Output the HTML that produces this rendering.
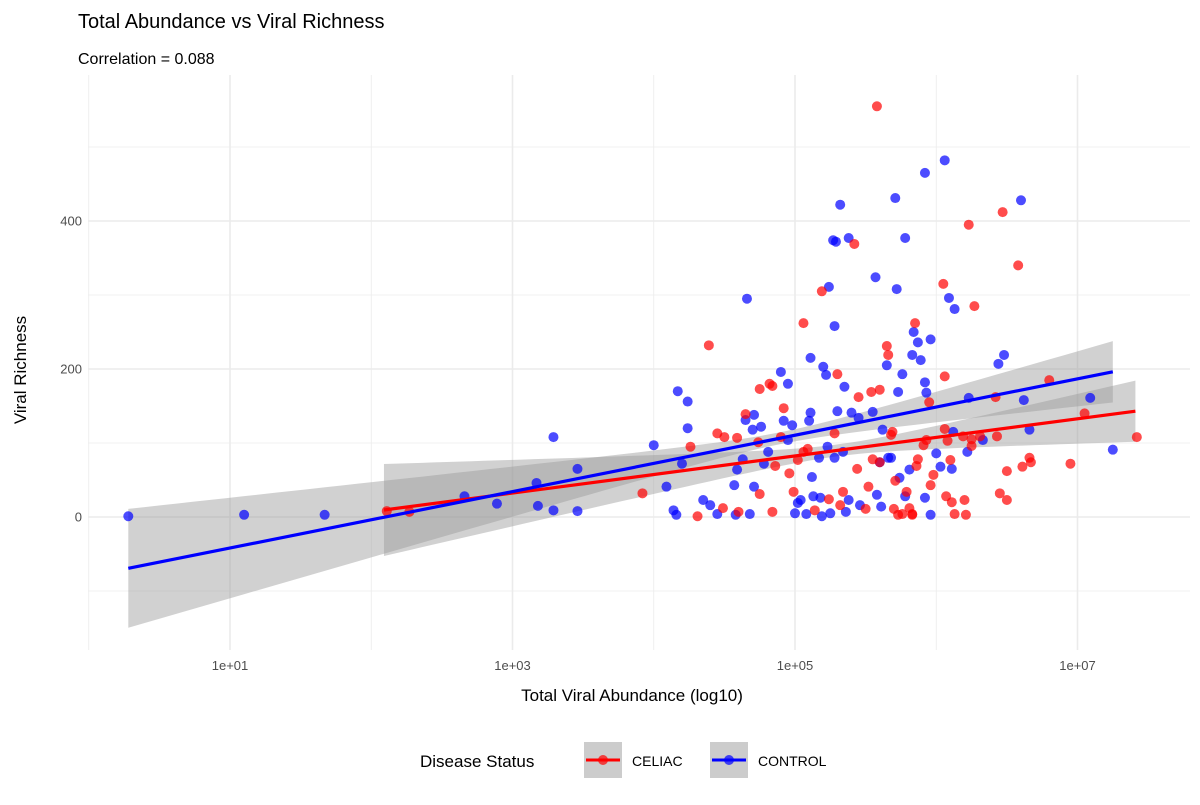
<!DOCTYPE html>
<html><head><meta charset="utf-8"><style>
body{margin:0;background:#fff;font-family:"Liberation Sans",Arial,sans-serif;}
svg text{font-family:"Liberation Sans",Arial,sans-serif;}
</style></head><body>
<svg id="chart" width="1200" height="800" viewBox="0 0 1200 800">
<text x="78" y="28" font-size="20" fill="#000">Total Abundance vs Viral Richness</text>
<text x="78" y="64" font-size="16" fill="#000">Correlation = 0.088</text>
<g id="grid"></g><g id="bands"></g><g id="points"></g><g id="lines"></g><g id="axes"></g>
<text x="632" y="701" font-size="17" text-anchor="middle" fill="#000">Total Viral Abundance (log10)</text>
<text transform="translate(26,370) rotate(-90)" font-size="17" text-anchor="middle" fill="#000">Viral Richness</text>
<g>
<text x="420" y="767" font-size="17" fill="#000">Disease Status</text>
<g>
<rect x="584" y="742" width="38" height="36" fill="#cccccc"/>
<line x1="586" y1="760" x2="620" y2="760" stroke="#ff0000" stroke-width="3"/>
<circle cx="603" cy="760" r="5" fill="#ff0000" fill-opacity="0.7"/>
<text x="632" y="766" font-size="14" fill="#000">CELIAC</text></g>
<g>
<rect x="710" y="742" width="38" height="36" fill="#cccccc"/>
<line x1="712" y1="760" x2="746" y2="760" stroke="#0000ff" stroke-width="3"/>
<circle cx="729" cy="760" r="5" fill="#0000ff" fill-opacity="0.7"/>
<text x="758" y="766" font-size="14" fill="#000">CONTROL</text></g>
</g>
</svg>
<script>
const xTickLabels=["1e+01","1e+03","1e+05","1e+07"];
const xTickLogs=[1,3,5,7];
const yTicks=[0,200,400];
const controlLog=[0.28,1.1,1.67,2.66,2.89,3.18,3.17,3.29,3.46,3.46,3.29,4.0,4.09,4.17,4.24,4.24,4.2,4.14,4.16,4.35,4.4,4.45,4.57,4.58,4.59,4.63,4.65,4.68,4.66,4.7,4.71,4.81,4.71,4.78,4.9,4.92,4.95,4.95,4.76,4.98,5.0,5.02,5.04,5.08,5.12,5.1,5.11,5.11,5.13,5.18,5.17,5.19,5.23,5.25,5.2,5.22,5.24,5.27,5.29,5.28,5.32,5.28,5.3,5.34,5.35,5.38,5.36,5.38,5.4,5.45,5.46,5.57,5.55,5.58,5.6,5.61,5.62,5.65,5.66,5.68,5.71,5.72,5.73,5.74,5.76,5.78,5.78,5.81,5.84,5.83,5.87,5.89,5.92,5.93,5.92,5.92,5.96,5.96,6.0,6.03,6.06,6.09,6.12,6.13,6.11,6.22,6.23,6.33,6.44,6.48,6.6,6.62,6.66,7.09,7.25];
const controlRich=[1,3,3,28,18,15,46,108,65,8,9,97,41,170,156,120,72,9,3,23,16,4,43,3,64,78,131,4,295,118,138,88,41,72,196,130,180,104,122,124,5,19,23,4,54,130,141,215,28,26,80,1,95,5,203,192,311,374,372,258,422,80,143,88,176,377,7,23,141,134,16,324,142,30,74,14,118,205,80,80,431,308,169,53,193,377,28,64,250,219,236,212,182,168,26,465,3,240,86,68,482,296,115,281,65,88,161,104,207,219,428,158,118,161,91];
const celiacLog=[2.11,2.27,3.92,4.26,4.31,4.39,4.45,4.49,4.5,4.59,4.6,4.65,4.75,4.74,4.75,4.82,4.84,4.84,4.86,4.9,4.92,4.96,4.99,5.02,5.06,5.06,5.09,5.14,5.19,5.24,5.28,5.3,5.32,5.34,5.42,5.44,5.45,5.5,5.52,5.54,5.55,5.58,5.6,5.6,5.65,5.66,5.68,5.69,5.7,5.71,5.73,5.76,5.79,5.81,5.83,5.83,5.85,5.86,5.87,5.91,5.93,5.95,5.96,5.98,6.06,6.06,6.07,6.05,6.08,6.1,6.11,6.13,6.19,6.2,6.21,6.25,6.25,6.23,6.27,6.31,6.42,6.43,6.47,6.5,6.45,6.5,6.58,6.61,6.66,6.67,6.8,6.95,7.05,7.42];
const celiacRich=[8,7,32,95,1,232,113,12,108,107,7,139,173,101,31,180,177,7,69,108,147,59,34,77,262,88,92,9,305,24,113,193,16,34,369,65,162,11,41,169,78,555,172,74,231,219,111,115,11,49,3,4,34,12,4,3,262,69,78,97,104,155,43,57,190,119,28,315,103,77,20,4,109,23,3,105,96,395,285,109,162,109,412,62,32,23,340,68,80,74,185,72,140,108];
// fit: [intercept, slope, minLog, maxLog, centerLog, seCenter, seSlope]
const controlFit=[-80,38.1,0.28,7.25,4.9,8,17.3];
const celiacFit=[-43,25.1,2.09,7.41,5.3,8,19.2];

const NS="http://www.w3.org/2000/svg";
const X=l=>88.75+l*141.25;
const Y=v=>517-v*0.74;
const P={l:88,r:1190,t:75,b:650};
function mk(t,a,p){const e=document.createElementNS(NS,t);for(const k in a)e.setAttribute(k,a[k]);p.appendChild(e);return e;}
const grid=document.getElementById('grid');
for(let l=0;l<=8;l++){const x=X(l);if(x<P.l-1||x>P.r)continue;
 const g=mk('line',{x1:x,x2:x,y1:P.t,y2:P.b,stroke:'#ebebeb','stroke-width':l%2?1.6:0.8},grid);
 
 }
for(let v=-100;v<=500;v+=100){const y=Y(v);
 const g=mk('line',{x1:P.l,x2:P.r,y1:y,y2:y,stroke:'#ebebeb','stroke-width':v%200?0.8:1.6},grid);
 
 }
const axes=document.getElementById('axes');
xTickLabels.forEach((s,i)=>{const t=mk('text',{x:X(xTickLogs[i]),y:670,'font-size':13,'text-anchor':'middle',fill:'#4d4d4d'},axes);t.textContent=s;
 
 });
yTicks.forEach(v=>{const t=mk('text',{x:82,y:Y(v)+4.5,'font-size':13,'text-anchor':'end',fill:'#4d4d4d'},axes);t.textContent=v;
 
 });
function band(f,name){let top=[],bot=[];
 for(let i=0;i<=60;i++){const l=f[2]+(f[3]-f[2])*i/60;const m=f[0]+f[1]*l;const hw=Math.sqrt(f[5]*f[5]+f[6]*f[6]*(l-f[4])*(l-f[4]));
  top.push(X(l)+','+Y(m+hw));bot.unshift(X(l)+','+Y(m-hw));}
 const p=mk('polygon',{points:top.concat(bot).join(' '),fill:'#999999','fill-opacity':0.45},document.getElementById('bands'));
 
 }
band(controlFit,'control-confidence-band');band(celiacFit,'celiac-confidence-band');
const pts=document.getElementById('points');
function dots(ls,rs,c,name){ls.forEach((l,i)=>{const d=mk('circle',{cx:X(l),cy:Y(rs[i]),r:5,fill:c,'fill-opacity':0.7},pts);
 
 });}
dots(controlLog,controlRich,'#0000ff','control-point');
dots(celiacLog,celiacRich,'#ff0000','celiac-point');
function fit(f,c,name){const ln=mk('line',{x1:X(f[2]),y1:Y(f[0]+f[1]*f[2]),x2:X(f[3]),y2:Y(f[0]+f[1]*f[3]),stroke:c,'stroke-width':3.2},document.getElementById('lines'));
 
 }
fit(celiacFit,'#ff0000','celiac-trend-line');fit(controlFit,'#0000ff','control-trend-line');
</script>
</body></html>
